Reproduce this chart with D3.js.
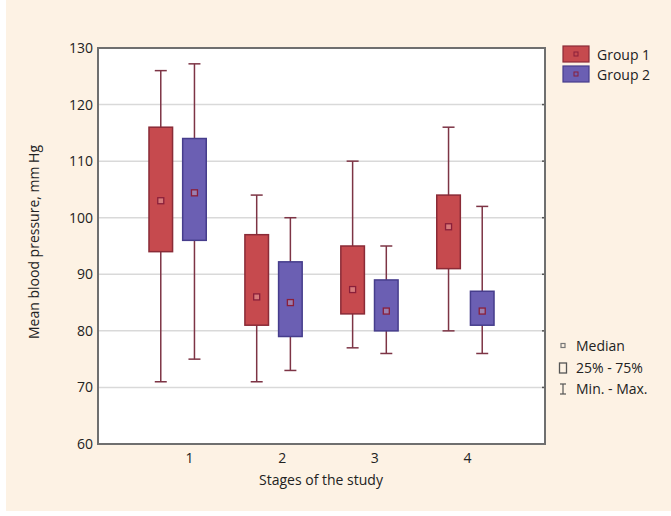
<!DOCTYPE html>
<html>
<head>
<meta charset="utf-8">
<script src="https://cdn.jsdelivr.net/npm/d3@7"></script>
<style>
  body { margin: 0; background: #fff; }
  text { font-family: "Open Sans", "Noto Sans", sans-serif; fill: #222; }
</style>
</head>
<body>
<svg width="671" height="516"></svg>
<script>
const width = 671;
const height = 516;

// Data (mm Hg)
const stages = [1, 2, 3, 4];
const groups = ["Group 1", "Group 2"];
const g1Min = [71, 71, 77, 80];
const g1Q1 = [94, 81, 83, 91];
const g1Median = [103, 86, 87.3, 98.4];
const g1Q3 = [116, 97, 95, 104];
const g1Max = [126, 104, 110, 116];
const g2Min = [75, 73, 76, 76];
const g2Q1 = [96, 79, 80, 81];
const g2Median = [104.4, 85, 83.5, 83.5];
const g2Q3 = [114, 92.2, 89, 87];
const g2Max = [127.2, 100, 95, 102];
const yTicks = [60, 70, 80, 90, 100, 110, 120, 130];

const fills = ["#c64a4e", "#6b5fb3"];
const strokes = ["#8a2b37", "#463d8c"];
const whiskerColor = "#7d3445";

const margin = { top: 48, right: 126, bottom: 72, left: 98 };
const plotW = width - margin.left - margin.right;
const plotH = height - margin.top - margin.bottom;

const svg = d3.select("svg");

// page background
svg.append("rect").attr("width", width).attr("height", height).attr("fill", "#fff");
svg.append("rect").attr("x", 6).attr("width", width - 6).attr("height", height - 5).attr("fill", "#fdf2e4");

const g = svg.append("g").attr("transform", `translate(${margin.left},${margin.top})`);

const y = d3.scaleLinear().domain([60, 130]).range([plotH, 0]);
const x = d3.scaleBand().domain(stages).range([0, plotW]).paddingOuter(0.33).paddingInner(0);
const xLabel = d3.scalePoint().domain(stages).range([91, 369]);
const sub = d3.scaleBand().domain(groups).range([0, 64]).paddingInner(0.3).paddingOuter(0.1);
const subShift = (x.bandwidth() - 64) / 2;

// plot area
g.append("rect").attr("width", plotW).attr("height", plotH).attr("fill", "#fff");

// grid
g.append("g")
  .selectAll("line")
  .data(yTicks.slice(1, -1))
  .enter()
  .append("line")
  .attr("x1", 0)
  .attr("x2", plotW)
  .attr("y1", d => y(d))
  .attr("y2", d => y(d))
  .attr("stroke", "#d9d9d9")
  .attr("stroke-width", 1.5);

// right-side tick dots
g.append("g")
  .selectAll("line")
  .data(yTicks.slice(1, -1))
  .enter()
  .append("line")
  .attr("x1", plotW - 3)
  .attr("x2", plotW)
  .attr("y1", d => y(d))
  .attr("y2", d => y(d))
  .attr("stroke", "#555")
  .attr("stroke-width", 1.5);

// boxes
const boxData = [];
stages.forEach((s, i) => {
  boxData.push({ stage: s, group: groups[0], gi: 0, min: g1Min[i], q1: g1Q1[i], med: g1Median[i], q3: g1Q3[i], max: g1Max[i] });
  boxData.push({ stage: s, group: groups[1], gi: 1, min: g2Min[i], q1: g2Q1[i], med: g2Median[i], q3: g2Q3[i], max: g2Max[i] });
});

const bw = sub.bandwidth();
const boxes = g.append("g")
  .selectAll("g")
  .data(boxData)
  .enter()
  .append("g")
  .attr("transform", d => `translate(${x(d.stage) + subShift + sub(d.group)},0)`);

// whisker
boxes.append("line")
  .attr("x1", bw / 2).attr("x2", bw / 2)
  .attr("y1", d => y(d.max)).attr("y2", d => y(d.min))
  .attr("stroke", whiskerColor).attr("stroke-width", 1.5);

// caps
boxes.selectAll(".cap")
  .data(d => [d.min, d.max])
  .enter()
  .append("line")
  .attr("class", "cap")
  .attr("x1", bw / 2 - 6).attr("x2", bw / 2 + 6)
  .attr("y1", v => y(v)).attr("y2", v => y(v))
  .attr("stroke", whiskerColor).attr("stroke-width", 1.5);

// box
boxes.append("rect")
  .attr("x", 0)
  .attr("width", bw)
  .attr("y", d => y(d.q3))
  .attr("height", d => y(d.q1) - y(d.q3))
  .attr("fill", d => fills[d.gi])
  .attr("stroke", d => strokes[d.gi])
  .attr("stroke-width", 1.5);

// median marker
boxes.append("rect")
  .attr("x", bw / 2 - 3)
  .attr("y", d => y(d.med) - 3)
  .attr("width", 6)
  .attr("height", 6)
  .attr("fill", d => d.gi === 0 ? "#d77a7a" : "#9a80b0")
  .attr("stroke", "#8a1f3a")
  .attr("stroke-width", 1.3);

// frame
g.append("rect").attr("width", plotW).attr("height", plotH)
  .attr("fill", "none").attr("stroke", "#6f6f6f").attr("stroke-width", 2);

// y axis
const yAxis = g.append("g")
  .call(d3.axisLeft(y).tickValues(yTicks).tickSize(0).tickPadding(5));
yAxis.select(".domain").remove();
yAxis.selectAll("text").style("font-size", "14px").attr("fill", "#222");

// x axis labels
const xAxis = g.append("g")
  .attr("transform", `translate(0,${plotH})`)
  .call(d3.axisBottom(xLabel).tickSize(0).tickPadding(9));
xAxis.select(".domain").remove();
xAxis.selectAll("text").style("font-size", "14px").attr("fill", "#222");

// axis titles
svg.append("text")
  .attr("x", 321).attr("y", 485)
  .attr("text-anchor", "middle")
  .style("font-size", "14px")
  .text("Stages of the study");

svg.append("text")
  .attr("transform", "translate(39,242) rotate(-90)")
  .attr("text-anchor", "middle")
  .style("font-size", "14px")
  .text("Mean blood pressure, mm Hg");

// group legend
const leg = svg.append("g").attr("transform", "translate(563,46)");
groups.forEach((name, i) => {
  const row = leg.append("g").attr("transform", `translate(0,${i * 20})`);
  row.append("rect").attr("width", 26).attr("height", 16)
    .attr("fill", fills[i]).attr("stroke", strokes[i]).attr("stroke-width", 1.2);
  row.append("rect").attr("x", 11).attr("y", 6).attr("width", 4).attr("height", 4)
    .attr("fill", "none").attr("stroke", "#8a1f3a").attr("stroke-width", 1);
  row.append("text").attr("x", 34).attr("y", 14).style("font-size", "14px").text(name);
});

// statistics legend
const leg2 = svg.append("g").attr("transform", "translate(563,0)");
leg2.append("rect").attr("x", -2).attr("y", 343.5).attr("width", 4).attr("height", 4)
  .attr("fill", "none").attr("stroke", "#777").attr("stroke-width", 1.2);
leg2.append("text").attr("x", 13).attr("y", 351).style("font-size", "14px").text("Median");
leg2.append("rect").attr("x", -3.5).attr("y", 363).attr("width", 7).attr("height", 10)
  .attr("fill", "none").attr("stroke", "#555").attr("stroke-width", 1.3);
leg2.append("text").attr("x", 13).attr("y", 373).style("font-size", "14px").text("25% - 75%");
leg2.append("line").attr("x1", 0).attr("x2", 0).attr("y1", 384).attr("y2", 394)
  .attr("stroke", "#555").attr("stroke-width", 1.2);
leg2.selectAll(".c").data([384, 394]).enter().append("line")
  .attr("x1", -3).attr("x2", 3).attr("y1", d => d).attr("y2", d => d)
  .attr("stroke", "#555").attr("stroke-width", 1.2);
leg2.append("text").attr("x", 13).attr("y", 394).style("font-size", "14px").text("Min. - Max.");
</script>
</body>
</html>
